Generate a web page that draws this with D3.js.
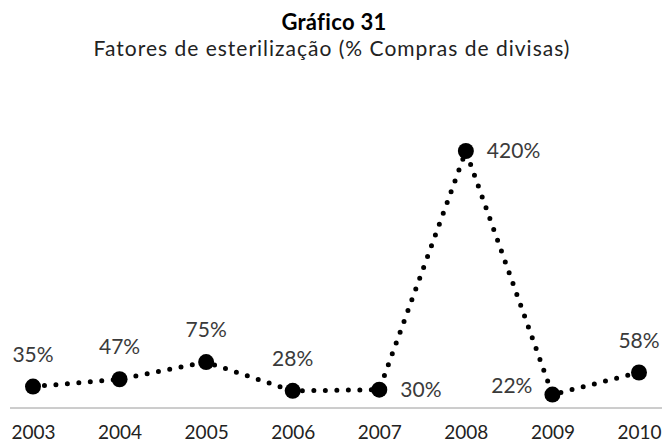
<!DOCTYPE html>
<html>
<head>
<meta charset="utf-8">
<script src="https://cdn.jsdelivr.net/npm/d3@7"></script>
<style>
  body { margin: 0; background: #fff; }
  svg { display: block; font-family: Lato, "Open Sans", sans-serif; }
</style>
</head>
<body>
<div class="chart"></div>
<script>
// data
var years = ["2003", "2004", "2005", "2006", "2007", "2008", "2009", "2010"];
var values = [35, 47, 75, 28, 30, 420, 22, 58];
// where each label sits relative to its point
var labelPos = ["top", "top", "top", "top", "right", "right", "left", "top"];

var svgWidth = 662;
var svgHeight = 441;

var svg = d3.select(".chart")
  .append("svg")
  .attr("width", svgWidth)
  .attr("height", svgHeight);

// titles
svg.append("text")
  .attr("x", 334).attr("y", 30)
  .attr("text-anchor", "middle")
  .style("font-size", "22px")
  .style("font-weight", "bold")
  .style("letter-spacing", "0.3px")
  .attr("fill", "#000")
  .text("Gráfico 31");

svg.append("text")
  .attr("x", 332).attr("y", 56)
  .attr("text-anchor", "middle")
  .style("font-size", "21px")
  .style("letter-spacing", "1px")
  .attr("fill", "#222")
  .text("Fatores de esterilização (% Compras de divisas)");

// scales
var x = d3.scalePoint().domain(years).range([33, 639]);
var y = d3.scaleLinear().domain([0, 420]).range([408, 151]);

// baseline
svg.append("line")
  .attr("x1", 10).attr("x2", svgWidth)
  .attr("y1", y(0)).attr("y2", y(0))
  .attr("stroke", "#9a9a9a")
  .attr("stroke-width", 1);

// x axis labels (no ticks)
var xAxis = d3.axisBottom(x).tickSize(0).tickPadding(0);
var gx = svg.append("g")
  .attr("transform", "translate(0," + (y(0) + 17) + ")")
  .call(xAxis);
gx.select(".domain").remove();
gx.selectAll("text")
  .style("font-size", "19px")
  .style("font-family", "Lato, 'Open Sans', sans-serif")
  .attr("fill", "#222");

// dotted line
var line = d3.line()
  .x(function(d, i) { return x(years[i]); })
  .y(function(d) { return y(d); });

svg.append("path")
  .datum(values)
  .attr("d", line)
  .attr("fill", "none")
  .attr("stroke", "#000")
  .attr("stroke-width", 5)
  .attr("stroke-linecap", "round")
  .attr("stroke-dasharray", "0 11.5");

// markers
svg.selectAll("circle.pt")
  .data(values)
  .enter()
  .append("circle")
  .attr("class", "pt")
  .attr("cx", function(d, i) { return x(years[i]); })
  .attr("cy", function(d) { return y(d); })
  .attr("r", 8)
  .attr("fill", "#000");

// value labels
svg.selectAll("text.lbl")
  .data(values)
  .enter()
  .append("text")
  .attr("class", "lbl")
  .style("font-size", "21px")
  .attr("fill", "#3a3a3a")
  .attr("x", function(d, i) {
    var cx = x(years[i]);
    if (labelPos[i] === "right") return cx + 21;
    if (labelPos[i] === "left") return cx - 20;
    return cx;
  })
  .attr("y", function(d, i) {
    var cy = y(d);
    if (labelPos[i] === "top") return cy - 25;
    if (labelPos[i] === "left") return cy - 2;
    return cy + 7;
  })
  .attr("text-anchor", function(d, i) {
    if (labelPos[i] === "right") return "start";
    if (labelPos[i] === "left") return "end";
    return "middle";
  })
  .text(function(d) { return d + "%"; });
</script>
</body>
</html>
